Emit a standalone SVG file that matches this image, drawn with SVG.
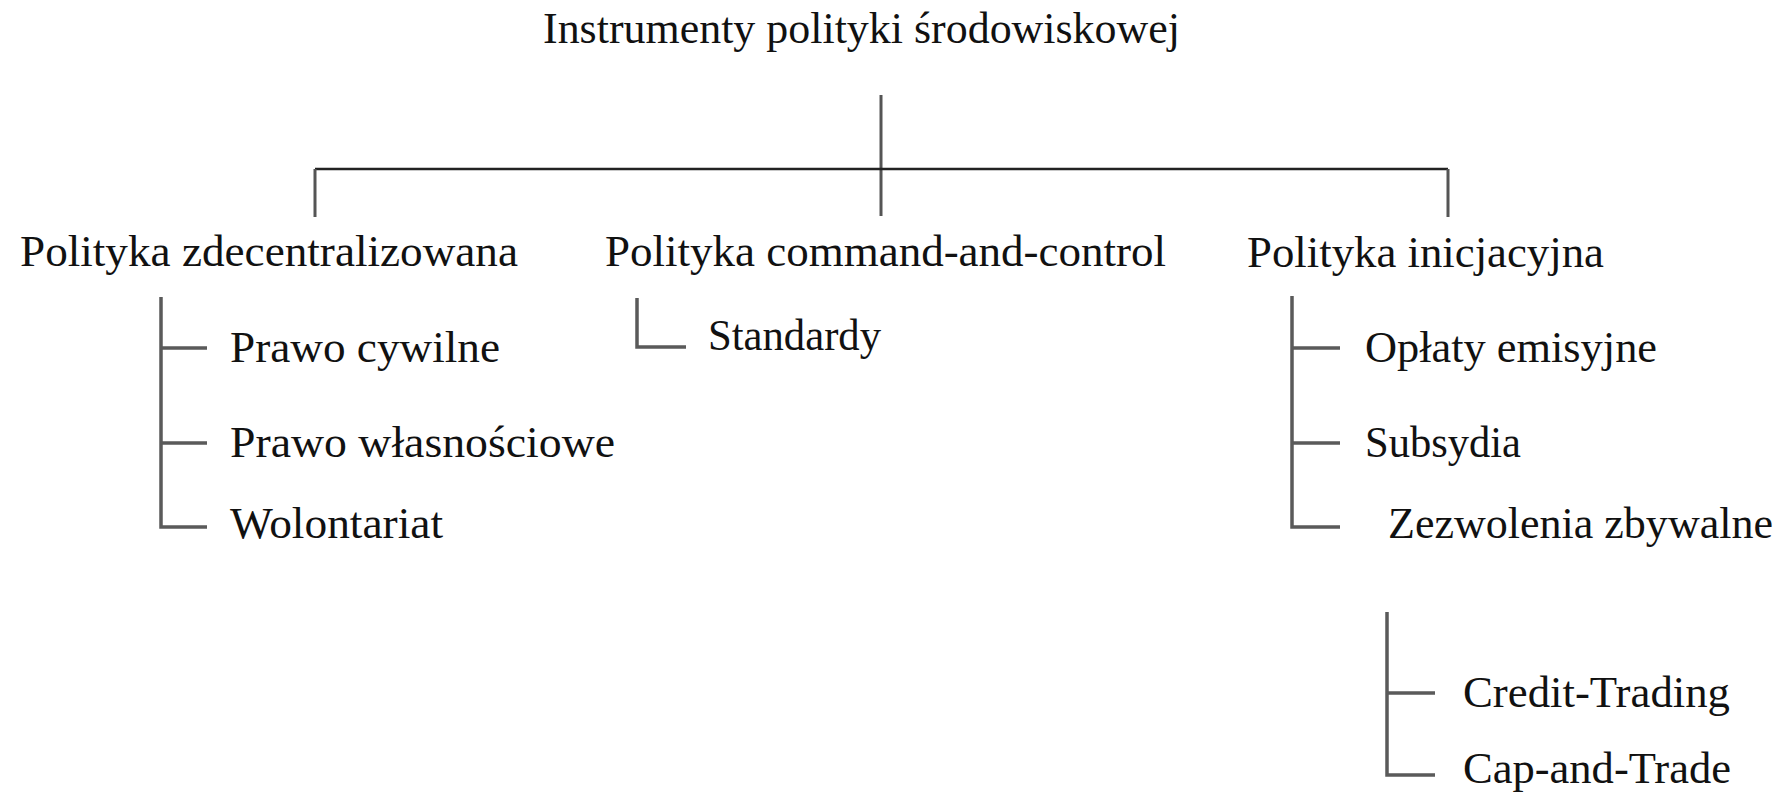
<svg xmlns="http://www.w3.org/2000/svg" width="1783" height="793" viewBox="0 0 1783 793">
<style>
text{font-family:'Liberation Serif','Times New Roman',serif;font-size:44px;fill:#111}
.main{stroke:#222;stroke-width:2.5;fill:none}
.drop{stroke:#555;stroke-width:3;fill:none}
.sub{stroke:#5a5a5a;stroke-width:3.5;fill:none}
</style>
<rect width="1783" height="793" fill="#fff"/>
<g id="connectors">
<path class="drop" d="M881 95V216"/>
<path class="main" d="M315 169H1448"/>
<path class="drop" d="M315 169V217M1448 169V217"/>
<path class="sub" d="M161 297V527H207M161 348H207M161 443H207"/>
<path class="sub" d="M637 298V347H686"/>
<path class="sub" d="M1292 296V527H1340M1292 348H1340M1292 443H1340"/>
<path class="sub" d="M1387 612V775H1435M1387 693H1435"/>
</g>
<g id="root"><text x="543" y="43" textLength="637" lengthAdjust="spacingAndGlyphs">Instrumenty polityki środowiskowej</text></g>
<g id="decentral"><text x="20" y="266" textLength="498" lengthAdjust="spacingAndGlyphs">Polityka zdecentralizowana</text></g>
<g id="command"><text x="605" y="266" textLength="561" lengthAdjust="spacingAndGlyphs">Polityka command-and-control</text></g>
<g id="incentive"><text x="1247" y="267" textLength="357" lengthAdjust="spacingAndGlyphs">Polityka inicjacyjna</text></g>
<g id="civil"><text x="230" y="362" textLength="270" lengthAdjust="spacingAndGlyphs">Prawo cywilne</text></g>
<g id="property"><text x="230" y="457" textLength="385" lengthAdjust="spacingAndGlyphs">Prawo własnościowe</text></g>
<g id="volunteer"><text x="230" y="538" textLength="213" lengthAdjust="spacingAndGlyphs">Wolontariat</text></g>
<g id="standards"><text x="708" y="350" textLength="173" lengthAdjust="spacingAndGlyphs">Standardy</text></g>
<g id="fees"><text x="1365" y="362" textLength="292" lengthAdjust="spacingAndGlyphs">Opłaty emisyjne</text></g>
<g id="subsidies"><text x="1365" y="457" textLength="156" lengthAdjust="spacingAndGlyphs">Subsydia</text></g>
<g id="permits"><text x="1388" y="538" textLength="385" lengthAdjust="spacingAndGlyphs">Zezwolenia zbywalne</text></g>
<g id="credit"><text x="1463" y="707" textLength="267" lengthAdjust="spacingAndGlyphs">Credit-Trading</text></g>
<g id="cap"><text x="1463" y="783" textLength="268" lengthAdjust="spacingAndGlyphs">Cap-and-Trade</text></g>
</svg>
